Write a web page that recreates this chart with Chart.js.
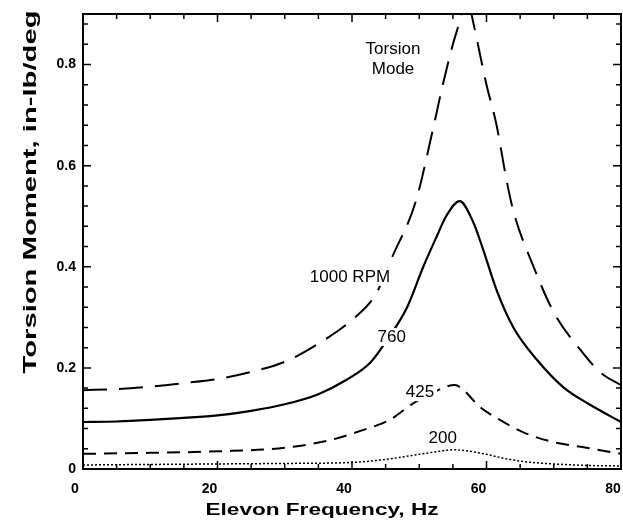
<!DOCTYPE html>
<html>
<head>
<meta charset="utf-8">
<script src="https://cdn.jsdelivr.net/npm/chart.js@4/dist/chart.umd.min.js"></script>
<style>
html,body{margin:0;padding:0;background:#fff;}
#wrap{width:623px;height:522px;position:relative;}
</style>
</head>
<body>
<div id="wrap"><canvas id="c"></canvas></div>
<script>
// ---- data ----
const xTicks = [0, 20, 40, 60, 80];
const yTicks = [0, 0.2, 0.4, 0.6, 0.8];

const freq1000 = [0, 5, 10, 15, 20, 25, 30, 35, 40, 43.5, 46, 49.5, 52, 53.5, 55, 56, 57, 58, 60, 61.5, 63, 64, 67, 70, 74, 77, 80];
const mom1000  = [0.156, 0.158, 0.163, 0.170, 0.178, 0.192, 0.212, 0.248, 0.295, 0.345, 0.42, 0.53, 0.67, 0.76, 0.84, 0.885, 0.94, 0.885, 0.76, 0.68, 0.57, 0.51, 0.40, 0.31, 0.235, 0.19, 0.166];

const freq760 = [0, 5, 10, 15, 20, 25, 30, 35, 39, 42.7, 45.2, 48.2, 50.6, 52.6, 54, 56, 58, 59.5, 61.5, 64, 67.5, 71.4, 75.4, 80];
const mom760  = [0.093, 0.094, 0.097, 0.101, 0.106, 0.115, 0.128, 0.148, 0.175, 0.21, 0.255, 0.32, 0.40, 0.46, 0.50, 0.53, 0.489, 0.434, 0.354, 0.28, 0.216, 0.162, 0.127, 0.093];

const freq425 = [0, 10, 20, 30, 36.7, 41.6, 45.6, 49.1, 51.6, 54, 55.3, 56.5, 59, 62, 65.4, 70, 74, 80];
const mom425  = [0.030, 0.032, 0.035, 0.042, 0.057, 0.077, 0.097, 0.13, 0.147, 0.163, 0.166, 0.157, 0.123, 0.097, 0.073, 0.053, 0.044, 0.030];

const freq200 = [0, 10, 20, 30, 40, 45, 50, 53, 55, 57, 60, 63, 66, 70, 75, 80];
const mom200  = [0.008, 0.009, 0.010, 0.011, 0.013, 0.019, 0.029, 0.035, 0.038, 0.036, 0.029, 0.020, 0.014, 0.010, 0.007, 0.006];

const curveLabels = ['Torsion', 'Mode', '1000 RPM', '760', '425', '200'];
const xTitle = 'Elevon Frequency, Hz';
const yTitle = 'Torsion Moment, in-lb/deg';

// ---- presentation ----
const FONT = '"Liberation Sans", Arial, Helvetica, sans-serif';
const labelPlacement = [
  {x: 46.1, y: 0.830, bg: false},
  {x: 46.1, y: 0.790, bg: false},
  {x: 39.7, y: 0.380, bg: true},
  {x: 45.9, y: 0.261, bg: true},
  {x: 50.1, y: 0.152, bg: true},
  {x: 53.5, y: 0.061, bg: false}
];

function pts(xs, ys){ return xs.map((v,i)=>({x:v, y:ys[i]})); }

const framePlugin = {
  id: 'frame',
  afterDatasetsDraw(chart){
    const ctx = chart.ctx;
    const {left, right, top, bottom} = chart.chartArea;
    const xs = chart.scales.x, ys = chart.scales.y;
    ctx.save();
    ctx.font = '17px ' + FONT;
    ctx.textAlign = 'center';
    ctx.textBaseline = 'middle';
    curveLabels.forEach((t,i)=>{
      const p = labelPlacement[i];
      const px = xs.getPixelForValue(p.x), py = ys.getPixelForValue(p.y);
      const w = ctx.measureText(t).width;
      if (p.bg){
        ctx.fillStyle = '#fff';
        ctx.fillRect(px - w/2 - 3, py - 9, w + 6, 18);
      }
      ctx.fillStyle = '#000';
      ctx.fillText(t, px, py);
    });
    ctx.strokeStyle = '#000';
    ctx.lineWidth = 2;
    ctx.strokeRect(left, top, right-left, bottom-top);
    ctx.lineWidth = 1.5;
    ctx.beginPath();
    for (let v = 0; v <= 80 + 1e-9; v += 5){
      const px = xs.getPixelForValue(v);
      const len = (v % 20 === 0) ? 8 : 5;
      ctx.moveTo(px, bottom); ctx.lineTo(px, bottom - len);
      ctx.moveTo(px, top); ctx.lineTo(px, top + len);
    }
    for (let k = 0; k <= 22; k++){
      const v = k * 0.04;
      const py = ys.getPixelForValue(v);
      const len = (k % 5 === 0) ? 8 : 5;
      ctx.moveTo(left, py); ctx.lineTo(left + len, py);
      ctx.moveTo(right, py); ctx.lineTo(right - len, py);
    }
    ctx.stroke();
    ctx.restore();

    ctx.save();
    ctx.fillStyle = '#000';
    ctx.font = 'bold 17px ' + FONT;
    ctx.textAlign = 'center';
    ctx.textBaseline = 'alphabetic';
    let w = ctx.measureText(xTitle).width;
    let sx = 233 / w;
    ctx.translate(322, 515);
    ctx.scale(sx, 1);
    ctx.fillText(xTitle, 0, 0);
    ctx.restore();

    ctx.save();
    ctx.fillStyle = '#000';
    ctx.font = 'bold 19px ' + FONT;
    ctx.textAlign = 'center';
    ctx.textBaseline = 'middle';
    w = ctx.measureText(yTitle).width;
    sx = 363 / w;
    ctx.translate(31, 192);
    ctx.rotate(-Math.PI/2);
    ctx.scale(sx, 1);
    ctx.fillText(yTitle, 0, 0);
    ctx.restore();
  }
};

const common = {pointRadius: 0, borderColor: '#000', fill: false, cubicInterpolationMode: 'monotone'};

new Chart(document.getElementById('c'), {
  type: 'line',
  data: {
    datasets: [
      Object.assign({label: '1000 RPM', data: pts(freq1000, mom1000), borderWidth: 2, borderDash: [24, 12]}, common),
      Object.assign({label: '760', data: pts(freq760, mom760), borderWidth: 2.2}, common),
      Object.assign({label: '425', data: pts(freq425, mom425), borderWidth: 2, borderDash: [13, 8]}, common),
      Object.assign({label: '200', data: pts(freq200, mom200), borderWidth: 1.5, borderDash: [2, 2]}, common)
    ]
  },
  options: {
    responsive: true,
    maintainAspectRatio: false,
    animation: false,
    layout: {padding: {left: 0, top: 14, right: 2, bottom: 0}},
    plugins: {legend: {display: false}, tooltip: {enabled: false}},
    scales: {
      x: {
        type: 'linear', min: 0, max: 80,
        grid: {display: false, drawTicks: false},
        border: {display: false},
        afterBuildTicks: s => { s.ticks = xTicks.map(v => ({value: v})); },
        afterFit: s => { s.height = 53; s.paddingLeft = 0; s.paddingRight = 0; },
        ticks: {
          color: '#000', font: {family: FONT, size: 14, weight: 'bold'},
          padding: 12, labelOffset: -8, maxRotation: 0,
          callback: v => String(v)
        }
      },
      y: {
        type: 'linear', min: 0, max: 0.9,
        grid: {display: false, drawTicks: false},
        border: {display: false},
        afterBuildTicks: s => { s.ticks = yTicks.map(v => ({value: v})); },
        afterFit: s => { s.width = 83; s.paddingTop = 0; s.paddingBottom = 0; },
        ticks: {
          color: '#000', font: {family: FONT, size: 14, weight: 'bold'},
          padding: 7,
          callback: v => (v === 0 ? '0' : v.toFixed(1))
        }
      }
    }
  },
  plugins: [framePlugin]
});
</script>
</body>
</html>
